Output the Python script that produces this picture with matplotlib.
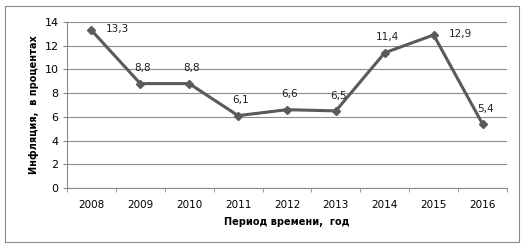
import matplotlib
matplotlib.use('Agg')
import matplotlib.pyplot as plt
from matplotlib.patches import Rectangle

years = ['2008', '2009', '2010', '2011', '2012', '2013', '2014', '2015', '2016']
infl = [13.3, 8.8, 8.8, 6.1, 6.6, 6.5, 11.4, 12.9, 5.4]
# where the value label sits: 'r' right of the point, 'u' above it
label_pos = ['r', 'u', 'u', 'u', 'u', 'u', 'u', 'r', 'u']

plt.rcParams['font.family'] = ['DejaVu Sans']

fig = plt.figure(figsize=(5.27, 2.49), dpi=100)
ax = fig.add_axes([0.127, 0.245, 0.835, 0.667])

x = list(range(len(years)))
ax.plot(x, infl, color='#5a5a5a', lw=2.2, marker='D', ms=4.5, zorder=3)

for i, v in enumerate(infl):
    txt = ('%.1f' % v).replace('.', ',')
    if label_pos[i] == 'r':
        ax.annotate(txt, (i, v), xytext=(19, 1), textcoords='offset points',
                    ha='center', va='center', fontsize=7.5, color='#222222')
    else:
        ax.annotate(txt, (i, v), xytext=(2, 11), textcoords='offset points',
                    ha='center', va='center', fontsize=7.5, color='#222222')

ax.set_xlim(-0.5, len(years) - 0.5)
ax.set_ylim(0, 14)
ax.set_yticks(range(0, 15, 2))
ax.set_xticks(x)
ax.set_xticklabels(years)
ax.set_xticks([i - 0.5 for i in range(len(years) + 1)], minor=True)
ax.tick_params(axis='x', which='major', length=0, labelsize=7.5, pad=9)
ax.tick_params(axis='x', which='minor', length=3, color='#888888', direction='out')
ax.tick_params(axis='y', length=3, color='#888888', labelsize=8, pad=3)
ax.grid(axis='y', color='#8c8c8c', lw=0.8)
ax.set_axisbelow(True)
for s in ['top', 'right']:
    ax.spines[s].set_visible(False)
ax.spines['left'].set_color('#888888')
ax.spines['bottom'].set_color('#888888')

ax.set_ylabel('Инфляция,  в процентах', fontsize=7, fontweight='bold', labelpad=4)
ax.set_xlabel('Период времени,  год', fontsize=7, fontweight='bold', labelpad=5)

fig.patches.append(Rectangle((5 / 527, 7 / 249), 514 / 527, 236 / 249,
                             transform=fig.transFigure, fill=False,
                             edgecolor='#888888', lw=0.8))

fig.savefig('out.png', dpi=100)
